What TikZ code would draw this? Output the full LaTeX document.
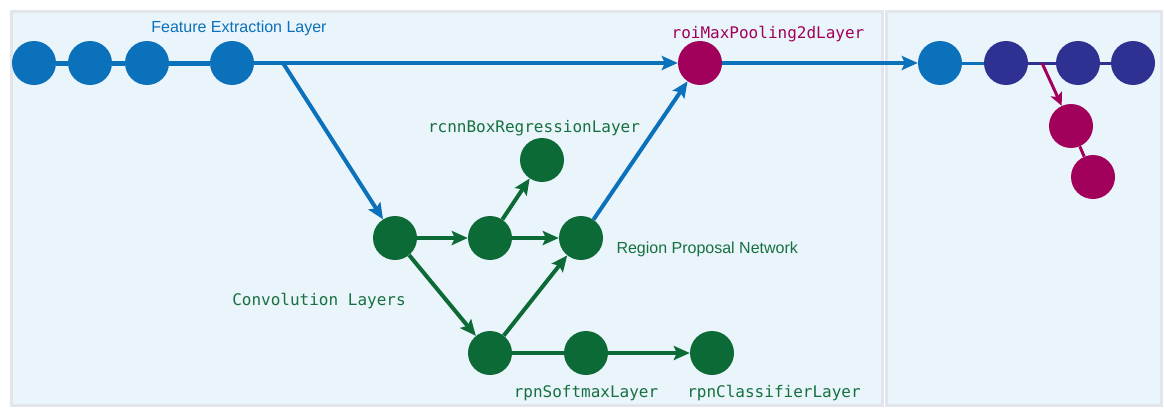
\documentclass[tikz,border=0pt]{standalone}
\usepackage{fontspec}
\setsansfont{Liberation Sans}
\setmonofont{DejaVu Sans Mono}
\usepackage{tikz}
\usetikzlibrary{arrows.meta}

\definecolor{feblue}{HTML}{0B71BA}
\definecolor{roired}{HTML}{A1005B}
\definecolor{navy}{HTML}{2E3192}
\definecolor{convgreen}{HTML}{0B6A36}
\definecolor{txtgreen}{HTML}{17703F}
\definecolor{panelbg}{HTML}{EAF4FB}
\definecolor{panelrule}{HTML}{E2E5EC}

\tikzset{
  layer/.style={circle, inner sep=0pt, minimum size=44pt},
  fe/.style={layer, fill=feblue},
  roi/.style={layer, fill=roired},
  cls/.style={layer, fill=navy},
  conv/.style={layer, fill=convgreen},
  panel/.style={fill=panelbg, draw=panelrule, line width=3pt},
  arr/.style={line width=4pt, -{Stealth[length=16pt, width=14pt, inset=3pt]}},
  lbl/.style={anchor=base, font=\ttfamily\fontsize{16}{18}\selectfont, text=txtgreen},
}

\begin{document}
\begin{tikzpicture}[x=1pt, y=-1pt]
\useasboundingbox (0,0) rectangle (1164,407);
\draw[panel] (11,11) rectangle (882,405);
\draw[panel] (886,11) rectangle (1161,405);

% feature extraction chain
\node(a)[fe] at (34,63) {};
\node(b)[fe] at (90,63) {};
\node(c)[fe] at (147,63) {};
\node(d)[fe] at (232,63) {};
\coordinate (s) at (283,63);
\node(r)[roi] at (700,63) {};

% convolution layers and region proposal network
\node(e)[conv] at (395,238) {};
\node(f)[conv] at (490,238) {};
\node(g)[conv] at (542,160) {};
\node(h)[conv] at (581,238) {};
\node(i)[conv] at (490,353) {};
\node(j)[conv] at (586,353) {};
\node(k)[conv] at (712,353) {};

% classification head
\node(l)[fe] at (940,63) {};
\node(m)[cls] at (1006,63) {};
\node(n)[cls] at (1078,63) {};
\node(o)[cls] at (1133,63) {};
\coordinate (t) at (1042,63);
\node(p)[roi] at (1071,126) {};
\node(q)[roi] at (1093,177) {};

\draw[feblue, line width=5pt] (a) -- (b) -- (c) -- (d);
\draw[feblue, arr] (d) -- (r);
\draw[feblue, arr] (s) -- (e);
\draw[feblue, arr] (h) -- (r);
\draw[feblue, arr] (r) -- (l);

\draw[convgreen, arr] (e) -- (f);
\draw[convgreen, arr] (f) -- (h);
\draw[convgreen, arr] (f) -- (g);
\draw[convgreen, arr] (e) -- (i);
\draw[convgreen, arr] (i) -- (h);
\draw[convgreen, line width=4pt] (i) -- (j);
\draw[convgreen, arr] (j) -- (k);

\draw[feblue, line width=3pt] (l) -- (m);
\draw[navy, line width=3pt] (m) -- (n) -- (o);
\draw[roired, line width=3pt, -{Stealth[length=13pt, width=12pt, inset=3pt]}] (t) -- (p);
\draw[roired, line width=3pt] (p) -- (q);

\node(fel)[anchor=base, font=\sffamily\fontsize{16}{18}\selectfont, text=feblue] at (239,32.5) {Feature Extraction Layer};
\node(rpl)[anchor=base west, font=\sffamily\fontsize{16}{18}\selectfont, text=txtgreen] at (613,253) {Region Proposal Network};
\node(rol)[lbl, text=roired] at (768,38) {roiMaxPooling2dLayer};
\node(rbl)[lbl] at (534,132) {rcnnBoxRegressionLayer};
\node(cvl)[lbl] at (319,305) {Convolution Layers};
\node(sml)[lbl] at (586,397) {rpnSoftmaxLayer};
\node(cll)[lbl] at (774,397) {rpnClassifierLayer};
\end{tikzpicture}
\end{document}
